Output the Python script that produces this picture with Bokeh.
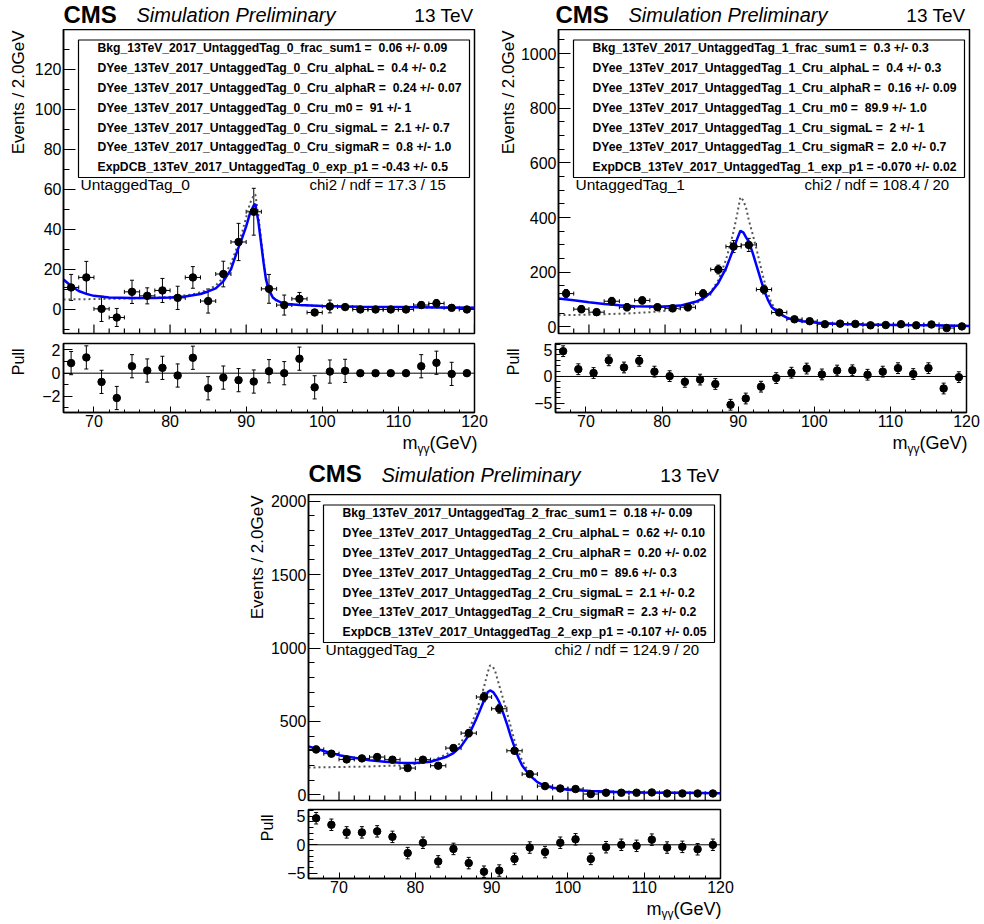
import math
from bokeh.plotting import figure
from bokeh.layouts import column, row
from bokeh.models import (Label, BoxAnnotation, Whisker, TeeHead, Span, FixedTicker,
                          Range1d, ColumnDataSource, Spacer)
from bokeh.embed import file_html
from bokeh.resources import INLINE

FONT = "Liberation Sans"

# ---------------- data ----------------
bins = [67, 69, 71, 73, 75, 77, 79, 81, 83, 85, 87, 89, 91, 93, 95, 97, 99,
        101, 103, 105, 107, 109, 111, 113, 115, 117, 119]
bin_half_width = 1.0

# UntaggedTag_0
tag0_events = [11, 16, 0.3, -4, 8.8, 6.8, 9.5, 5.8, 16, 4.2, 17.7, 33.7, 48.8, 10.3, 2.2, 5.3, -1.5,
               1.5, 1.2, 0, 0, 0, 0, 2.2, 3, 0.8, 0]
tag0_errors = [6.5, 8, 6.3, 4.5, 5.8, 4, 6, 5.8, 5.4, 6, 6.4, 9.3, 11.7, 7.2, 5, 3.2, 1.5,
               3.2, 1, 0, 0, 0, 0, 1.7, 2, 1, 0]
tag0_pull = [0.87, 1.36, -0.75, -2.14, 0.6, 0.23, 0.46, -0.2, 1.33, -1.3, -0.38, -0.6, -0.72, 0.17, 0,
             1.25, -1.22, 0.14, 0.2, 0, 0, 0, 0, 0.6, 0.9, -0.06, 0]
tag0_pull_err = [1, 1, 1, 1, 1, 1, 1, 1, 1, 1, 1, 1, 1, 1, 1, 1, 1, 1, 1, 0, 0, 0, 0, 1, 1, 1, 0]
tag0_fit_x = [66, 67, 68, 69, 70, 72, 75, 78, 80, 82, 84, 85, 86, 87, 88, 89, 89.5, 90, 90.5, 91, 91.2,
              91.6, 92, 92.3, 92.6, 93, 93.5, 94, 95, 97, 100, 105, 110, 115, 120]
tag0_fit_y = [15, 11.7, 9.2, 7.8, 6.8, 6, 5.7, 5.7, 6, 6.5, 7.7, 9, 10.5, 14, 20, 31, 36, 41.5, 48, 52, 52.7,
              44, 32, 23, 15, 9.5, 6, 4.5, 2.8, 2.2, 1.7, 1.3, 1.2, 1, 0.8]
tag0_alt_x = [66, 70, 75, 80, 83, 85, 86, 87, 88, 89, 89.5, 90, 90.5, 91, 91.2, 91.6, 92, 92.3, 92.6, 93,
              93.5, 94, 95, 97, 100, 105, 110, 115, 120]
tag0_alt_y = [5, 5.2, 5.5, 6.2, 7.5, 9.8, 12, 16, 23, 33, 39, 46, 53, 57, 57.5, 47, 34, 24, 16, 10,
              6.2, 4.6, 2.9, 2.2, 1.7, 1.3, 1.2, 1, 0.8]
tag0_params = [
    "Bkg_13TeV_2017_UntaggedTag_0_frac_sum1 =  0.06 +/- 0.09",
    "DYee_13TeV_2017_UntaggedTag_0_Cru_alphaL =  0.4 +/- 0.2",
    "DYee_13TeV_2017_UntaggedTag_0_Cru_alphaR =  0.24 +/- 0.07",
    "DYee_13TeV_2017_UntaggedTag_0_Cru_m0 =  91 +/- 1",
    "DYee_13TeV_2017_UntaggedTag_0_Cru_sigmaL =  2.1 +/- 0.7",
    "DYee_13TeV_2017_UntaggedTag_0_Cru_sigmaR =  0.8 +/- 1.0",
    "ExpDCB_13TeV_2017_UntaggedTag_0_exp_p1 = -0.43 +/- 0.5",
]
tag0_chi2 = "chi2 / ndf = 17.3 / 15"

# UntaggedTag_1
tag1_events = [122, 65, 54, 94, 72, 97, 72, 68, 72, 122, 210, 294, 300, 137, 53, 28, 21,
               10, 12, 11, 6, 7, 10, 6, 9, -4, 2]
tag1_errors = [15, 13, 12, 14, 13, 13, 12, 12, 13, 14, 16, 22, 24, 16, 10, 7, 6,
               5, 5, 5, 4, 4, 5, 4, 5, 4, 3]
tag1_pull = [4.7, 1.35, 0.64, 3.0, 1.67, 2.9, 0.9, 0.06, -1.0, -0.58, -1.4, -5.26, -4.1, -1.9, -0.3,
             0.7, 1.47, 0.38, 1.1, 1.15, 0.32, 0.9, 1.54, 0.45, 1.54, -2.24, -0.13]
tag1_pull_err = [1] * 27
tag1_fit_x = [66, 68, 70, 72, 74, 76, 78, 80, 82, 84, 85, 86, 87, 88, 88.5, 89, 89.5, 89.9, 90.3, 90.7,
              91, 91.5, 92, 92.5, 93, 93.5, 94, 95, 96, 97, 98, 100, 103, 106, 110, 115, 120]
tag1_fit_y = [104, 98, 90.5, 84, 79.5, 76, 74.6, 74.6, 78, 92, 104, 125, 161, 214, 250, 287, 324, 352, 345,
              325, 312, 272, 226, 180, 135, 100, 73, 49, 34, 26, 21, 15, 11, 8.6, 7.3, 6, 3.7]
tag1_alt_x = [66, 70, 75, 78, 80, 82, 84, 85, 86, 87, 88, 88.5, 89, 89.5, 89.9, 90.3, 90.7, 91, 91.5, 92,
              92.5, 93, 93.5, 94, 95, 96, 97, 98, 100, 103, 106, 110, 115, 120]
tag1_alt_y = [43, 45, 49, 54, 59, 67, 86, 100, 128, 171, 245, 295, 349, 416, 475, 462, 430, 391, 340, 287,
              228, 171, 125, 86, 49, 33, 24.5, 19.6, 15, 11, 8.6, 7.3, 6, 3.7]
tag1_params = [
    "Bkg_13TeV_2017_UntaggedTag_1_frac_sum1 =  0.3 +/- 0.3",
    "DYee_13TeV_2017_UntaggedTag_1_Cru_alphaL =  0.4 +/- 0.3",
    "DYee_13TeV_2017_UntaggedTag_1_Cru_alphaR =  0.16 +/- 0.09",
    "DYee_13TeV_2017_UntaggedTag_1_Cru_m0 =  89.9 +/- 1.0",
    "DYee_13TeV_2017_UntaggedTag_1_Cru_sigmaL =  2 +/- 1",
    "DYee_13TeV_2017_UntaggedTag_1_Cru_sigmaR =  2.0 +/- 0.7",
    "ExpDCB_13TeV_2017_UntaggedTag_1_exp_p1 = -0.070 +/- 0.02",
]
tag1_chi2 = "chi2 / ndf = 108.4 / 20"

# UntaggedTag_2
tag2_events = [309, 280, 241, 248, 257, 239, 182, 239, 198, 318, 420, 666, 586, 300, 141, 59, 43,
               39, 5, 14, 14, 14, 16, 9, 9, 9, 9]
tag2_errors = [22, 20, 20, 20, 20, 20, 18, 20, 18, 22, 25, 32, 30, 22, 15, 10, 8,
               8, 5, 6, 6, 6, 6, 5, 5, 5, 5]
tag2_pull = [4.64, 3.5, 2.17, 2.17, 2.35, 1.39, -1.45, 0.36, -2.9, -0.72, -3.2, -4.7, -4.5, -2.47, -0.48,
             -1.27, 0.36, 0.96, -2.47, -0.42, 0, -0.18, 0.9, -0.48, -0.36, -0.78, 0]
tag2_pull_err = [1] * 27
tag2_fit_x = [66, 68, 70, 72, 74, 76, 78, 80, 82, 84, 85, 86, 87, 88, 88.5, 89, 89.5, 89.8, 90.2, 90.6,
              91, 91.5, 92, 92.5, 93, 93.5, 94, 95, 96, 97, 98, 100, 103, 106, 110, 115, 120]
tag2_fit_y = [330, 298, 270, 252, 236, 225, 218, 216, 225, 257, 284, 330, 405, 518, 580, 643, 700, 711, 700,
              670, 632, 560, 484, 400, 325, 255, 200, 132, 86, 61, 48, 34, 25, 20, 16, 14, 11]
tag2_alt_x = [66, 70, 74, 78, 80, 82, 84, 85, 86, 87, 88, 88.5, 89, 89.5, 89.8, 90.2, 90.5, 91, 91.5, 92,
              92.5, 93, 93.5, 94, 95, 96, 97, 98, 100, 103, 106, 110, 115, 120]
tag2_alt_y = [186, 189, 193, 200, 209, 230, 273, 307, 359, 439, 564, 650, 734, 836, 882, 870, 836, 745, 655,
              564, 465, 370, 295, 234, 143, 86, 59, 45, 34, 25, 20, 16, 14, 11]
tag2_params = [
    "Bkg_13TeV_2017_UntaggedTag_2_frac_sum1 =  0.18 +/- 0.09",
    "DYee_13TeV_2017_UntaggedTag_2_Cru_alphaL =  0.62 +/- 0.10",
    "DYee_13TeV_2017_UntaggedTag_2_Cru_alphaR =  0.20 +/- 0.02",
    "DYee_13TeV_2017_UntaggedTag_2_Cru_m0 =  89.6 +/- 0.3",
    "DYee_13TeV_2017_UntaggedTag_2_Cru_sigmaL =  2.1 +/- 0.2",
    "DYee_13TeV_2017_UntaggedTag_2_Cru_sigmaR =  2.3 +/- 0.2",
    "ExpDCB_13TeV_2017_UntaggedTag_2_exp_p1 = -0.107 +/- 0.05",
]
tag2_chi2 = "chi2 / ndf = 124.9 / 20"

x_major = [70, 80, 90, 100, 110, 120]
x_minor = [66, 68, 72, 74, 76, 78, 82, 84, 86, 88, 92, 94, 96, 98, 102, 104, 106, 108, 112, 114, 116, 118]


def lab(p, x, y, text, size, style="normal", align="left", baseline="middle", angle=0.0):
    p.add_layout(Label(x=x, y=y, x_units="screen", y_units="screen", text=text,
                       text_font=FONT, text_font_size=f"{size}px", text_font_style=style,
                       text_align=align, text_baseline=baseline, angle=angle, text_color="black"))


def strip(w, h):
    s = figure(frame_width=w, frame_height=h, x_range=Range1d(0, 1), y_range=Range1d(0, 1),
               x_axis_type=None, y_axis_type=None, min_border=0,
               output_backend="svg", toolbar_location=None)
    s.outline_line_color = None
    s.background_fill_color = "white"
    s.border_fill_color = "white"
    return s


def style_common(p):
    p.grid.visible = False
    p.outline_line_color = "black"
    p.outline_line_width = 1.5
    p.outline_line_alpha = 1.0
    p.background_fill_color = "white"
    p.border_fill_color = "white"
    for ax in list(p.xaxis) + list(p.yaxis):
        ax.axis_line_color = "black"
        ax.axis_line_width = 1.5
        ax.major_tick_line_color = "black"
        ax.minor_tick_line_color = "black"
        ax.major_tick_out = 0
        ax.minor_tick_out = 0
        ax.major_label_text_font = FONT
        ax.major_label_text_color = "black"
        ax.major_label_text_font_size = "16px"


def whiskers(p, x, lo, hi, dim):
    src = ColumnDataSource(dict(b=x, lo=lo, hi=hi))
    w = Whisker(source=src, base="b", lower="lo", upper="hi", dimension=dim,
                line_color="black", line_width=1,
                lower_head=TeeHead(size=4, line_color="black", line_width=1),
                upper_head=TeeHead(size=4, line_color="black", line_width=1))
    p.add_layout(w)


def panel(ev, er, pu, pe, fx, fy, ax_, ay_, params, chi2, tag, yr, yt, ymin, minus_names,
          pr, pt, pmin, cfg):
    lb, fw, rb = cfg["lb"], cfg["fw"], cfg["rb"]
    W = lb + fw + rb
    fh = cfg["fh"]
    # ---------- header strip ----------
    hd = strip(W, cfg["hdr_h"])
    hy = cfg["hdr_y"]
    lab(hd, lb, hy[0], "CMS", 24, style="bold")
    lab(hd, lb + 73, hy[1], "Simulation Preliminary", 20, style="italic")
    lab(hd, lb + fw - 1, hy[2], "13 TeV", 19, align="right")

    # ---------- main ----------
    sm = cfg["sm"]
    m = figure(frame_width=fw, frame_height=fh, min_border_left=lb - sm, min_border_right=rb,
               min_border_top=0, min_border_bottom=cfg["bb"],
               x_range=Range1d(66, 120), y_range=Range1d(*yr),
               output_backend="svg", toolbar_location=None)
    style_common(m)
    m.xaxis.visible = False
    ya = m.yaxis[0]
    ya.ticker = FixedTicker(ticks=yt, minor_ticks=ymin)
    ya.major_tick_in = 12
    ya.minor_tick_in = 6
    ya.major_label_standoff = 2
    # x ticks on the bottom edge of the main frame (no labels there)
    m.scatter(x_major, [yr[0]] * len(x_major), marker="dash", angle=math.pi / 2, size=18,
              line_color="black", line_width=1.2)
    m.scatter(x_minor, [yr[0]] * len(x_minor), marker="dash", angle=math.pi / 2, size=10,
              line_color="black", line_width=1.2)

    m.line(ax_, ay_, line_color="#555555", line_width=2, line_dash="2 3")
    m.line(fx, fy, line_color="#0000ff", line_width=2.5)
    xl = [b - bin_half_width for b in bins]
    xu = [b + bin_half_width for b in bins]
    whiskers(m, ev, xl, xu, "width")
    whiskers(m, bins, [v - e for v, e in zip(ev, er)], [v + e for v, e in zip(ev, er)], "height")
    m.scatter(bins, ev, size=7.5, color="black")

    m.add_layout(BoxAnnotation(left=15, right=406, top=fh - 10.5, bottom=fh - 148,
                               left_units="screen", right_units="screen",
                               top_units="screen", bottom_units="screen",
                               fill_color="white", fill_alpha=1.0,
                               line_color="black", line_width=1.2, line_alpha=1.0))
    for i, t in enumerate(params):
        lab(m, 34, fh - (18.8 + 19.8 * i), t.replace("  ", " \u00a0"), 12.2, style="bold")
    lab(m, 17, fh - 155, tag, 15.5)
    lab(m, 246, fh - 155, chi2, 15)

    ys_m = strip(sm, fh + cfg["bb"])
    lab(ys_m, cfg["ev_cx"], fh + cfg["bb"] - 1, "Events / 2.0GeV", 17, align="right",
        angle=math.pi / 2)

    # ---------- pull ----------
    sp = cfg["sp"]
    pbb = cfg["pbb"]
    q = figure(frame_width=fw, frame_height=69, min_border_left=lb - sp, min_border_right=rb,
               min_border_top=5, min_border_bottom=pbb,
               x_range=Range1d(66, 120), y_range=Range1d(*pr),
               output_backend="svg", toolbar_location=None)
    style_common(q)
    qa = q.xaxis[0]
    qa.ticker = FixedTicker(ticks=x_major, minor_ticks=x_minor)
    qa.major_tick_in = 6
    qa.minor_tick_in = 3
    qa.major_label_standoff = 2
    qy = q.yaxis[0]
    qy.ticker = FixedTicker(ticks=pt, minor_ticks=pmin)
    qy.major_tick_in = 9
    qy.minor_tick_in = 5
    qy.major_label_standoff = 3
    qy.major_label_overrides = minus_names
    q.add_layout(Span(location=0, dimension="width", line_color="black", line_width=1))
    whiskers(q, bins, [v - e for v, e in zip(pu, pe)], [v + e for v, e in zip(pu, pe)], "height")
    q.scatter(bins, pu, size=7.5, color="black")

    ys_p = strip(sp, 5 + 69 + pbb)
    lab(ys_p, cfg["pull_cx"], 69 + pbb, "Pull", 16, align="right", angle=math.pi / 2)

    # ---------- x title strip ----------
    xt = strip(W, cfg["xt_h"])
    R = cfg["xt_right"]
    yc = cfg["xt_y"]
    lab(xt, R, yc, "(GeV)", 18, align="right")
    lab(xt, R - 48, yc - cfg["sub_drop"], "\u03b3\u03b3", 12, align="right")
    lab(xt, R - 60, yc, "m", 18, align="right")

    return column(hd, row(ys_m, m), row(ys_p, q), xt)


cfg0 = dict(lb=63, fw=411, rb=16, fh=304, bb=5, pbb=21, sm=30, sp=30, ev_cx=18.3, pull_cx=18.3,
            hdr_h=29, hdr_y=(15.5, 14.1, 13.7), xt_h=25, xt_y=16, sub_drop=6, xt_right=63 + 411 + 3)
cfg1 = dict(lb=65, fw=411, rb=18, fh=304, bb=5, pbb=21, sm=27, sp=32, ev_cx=18.3, pull_cx=23.3,
            hdr_h=29, hdr_y=(15.5, 14.1, 13.7), xt_h=25, xt_y=16, sub_drop=6, xt_right=65 + 411 + 1)
cfg2 = dict(lb=63, fw=412, rb=16, fh=306, bb=4, pbb=21, sm=22, sp=33, ev_cx=11.7, pull_cx=21.7,
            hdr_h=36, hdr_y=(20.9, 19.5, 19.1), xt_h=21, xt_y=12, sub_drop=5, xt_right=63 + 412 + 1)

p0 = panel(tag0_events, tag0_errors, tag0_pull, tag0_pull_err, tag0_fit_x, tag0_fit_y, tag0_alt_x, tag0_alt_y,
           tag0_params, tag0_chi2, "UntaggedTag_0", (-12, 139.8), [0, 20, 40, 60, 80, 100, 120],
           [-10, 10, 30, 50, 70, 90, 110, 130], {-2: "\u22122"},
           (-3.39, 2.56), [-2, 0, 2], [-3, -1, 1], cfg0)
p1 = panel(tag1_events, tag1_errors, tag1_pull, tag1_pull_err, tag1_fit_x, tag1_fit_y, tag1_alt_x, tag1_alt_y,
           tag1_params, tag1_chi2, "UntaggedTag_1", (-24, 1088), [0, 200, 400, 600, 800, 1000],
           [50, 100, 150, 250, 300, 350, 450, 500, 550, 650, 700, 750, 850, 900, 950, 1050], {-5: "\u22125"},
           (-6.7, 6.13), [-5, 0, 5], [-6, -4, -3, -2, -1, 1, 2, 3, 4, 6], cfg1)
p2 = panel(tag2_events, tag2_errors, tag2_pull, tag2_pull_err, tag2_fit_x, tag2_fit_y, tag2_alt_x, tag2_alt_y,
           tag2_params, tag2_chi2, "UntaggedTag_2", (-39, 2046), [0, 500, 1000, 1500, 2000],
           [100, 200, 300, 400, 600, 700, 800, 900, 1100, 1200, 1300, 1400, 1600, 1700, 1800, 1900],
           {-5: "\u22125"},
           (-5.89, 6.17), [-5, 0, 5], [-4, -3, -2, -1, 1, 2, 3, 4, 6], cfg2)

layout = column(row(p0, p1), row(Spacer(width=245, height=10), p2))
open("out.html", "w").write(file_html(layout, INLINE))
